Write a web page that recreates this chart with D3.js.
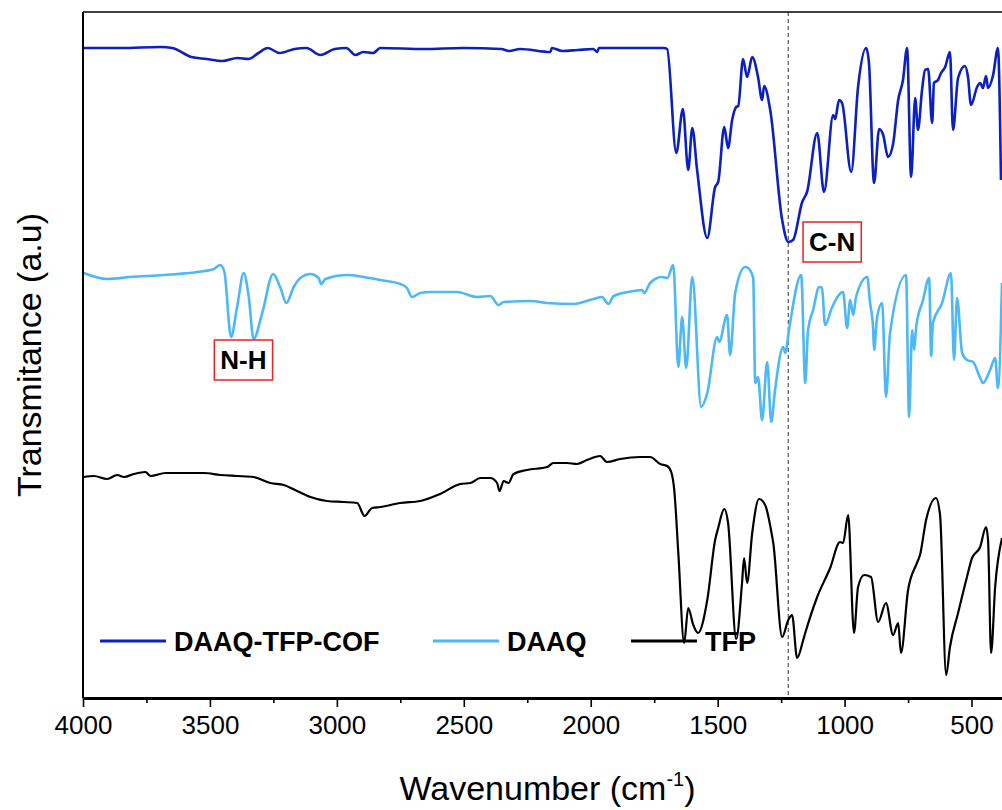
<!DOCTYPE html>
<html>
<head>
<meta charset="utf-8">
<script src="https://cdn.jsdelivr.net/npm/d3@7.9.0/dist/d3.min.js"></script>
<style>
  body { margin: 0; background: #fff; }
  svg { display: block; font-family: "Liberation Sans", Arial, sans-serif; }
</style>
</head>
<body>
<svg id="chart" width="1002" height="810"></svg>
<script>
// FTIR spectra: [wavenumber (cm-1), transmittance (a.u., stacked)]
const cofData = [
  [3997, 650], [3850, 650], [3695, 651], [3648, 650], [3573, 641], [3514, 639], [3451, 637],
  [3392, 640], [3348, 639], [3309, 645], [3272, 650], [3226, 645], [3167, 649], [3120, 650],
  [3065, 643], [3008, 649], [2963, 650], [2927, 643], [2896, 646], [2857, 645], [2829, 650],
  [2656, 649], [2502, 650], [2352, 649], [2322, 647], [2278, 649], [2159, 646], [2153, 650],
  [2112, 647], [2051, 648], [1990, 649], [1974, 646], [1968, 650], [1750, 650], [1712, 650],
  [1699, 649], [1663, 545], [1637, 589], [1616, 528], [1600, 570], [1581, 528], [1541, 460],
  [1510, 511], [1498, 516], [1474, 571], [1459, 550], [1443, 578], [1427, 591], [1419, 592],
  [1400, 639], [1384, 621], [1364, 641], [1341, 621], [1325, 598], [1317, 612], [1293, 588],
  [1246, 478], [1222, 456], [1203, 458], [1167, 496], [1148, 506], [1108, 565], [1081, 506],
  [1045, 583], [1037, 579], [1022, 598], [1010, 595], [974, 526], [947, 611], [915, 650],
  [904, 635], [884, 515], [864, 569], [848, 563], [829, 541], [809, 554], [789, 598],
  [770, 618], [754, 650], [738, 521], [722, 600], [711, 568], [695, 608], [683, 628],
  [671, 629], [655, 575], [648, 615], [632, 618], [620, 625], [604, 631], [585, 646],
  [573, 568], [553, 620], [526, 632], [514, 621], [502, 593], [478, 611], [466, 615],
  [455, 610], [443, 622], [435, 610], [415, 623], [396, 650], [384, 518]
];

const daaqData = [
  [3997, 425], [3905, 419], [3813, 421], [3682, 423], [3550, 426], [3485, 429], [3459, 433],
  [3443, 426], [3417, 361], [3393, 391], [3367, 425], [3347, 401], [3328, 359], [3294, 385],
  [3251, 424], [3222, 410], [3199, 395], [3170, 411], [3144, 420], [3104, 424], [3072, 420],
  [3062, 414], [3045, 419], [2960, 423], [2894, 421], [2829, 418], [2750, 414], [2724, 410],
  [2704, 401], [2671, 405], [2632, 406], [2527, 406], [2448, 401], [2396, 402], [2363, 393],
  [2343, 396], [2238, 397], [2172, 395], [2068, 394], [1989, 399], [1956, 401], [1930, 394],
  [1910, 402], [1831, 407], [1798, 408], [1789, 405], [1766, 415], [1720, 421], [1698, 420],
  [1675, 433], [1655, 331], [1640, 381], [1624, 330], [1600, 421], [1565, 291], [1541, 305],
  [1502, 361], [1494, 356], [1463, 383], [1451, 343], [1431, 405], [1392, 431], [1380, 430],
  [1360, 420], [1352, 315], [1341, 321], [1325, 278], [1305, 336], [1289, 276], [1274, 308],
  [1242, 351], [1234, 345], [1218, 370], [1171, 423], [1155, 315], [1144, 368], [1124, 388],
  [1100, 411], [1089, 410], [1077, 373], [1049, 391], [1006, 406], [990, 370], [978, 398],
  [966, 383], [955, 401], [911, 421], [900, 396], [888, 371], [884, 348], [872, 381],
  [852, 395], [837, 301], [821, 365], [758, 423], [746, 281], [734, 368], [726, 348],
  [718, 371], [691, 398], [667, 420], [659, 342], [652, 375], [616, 395], [581, 425],
  [569, 338], [557, 400], [537, 345], [518, 338], [494, 336], [466, 320], [455, 315],
  [427, 328], [407, 340], [396, 310], [380, 415]
];

const tfpData = [
  [3997, 221], [3957, 222], [3905, 219], [3865, 223], [3839, 221], [3800, 224], [3754, 226],
  [3734, 222], [3675, 225], [3616, 225], [3524, 225], [3459, 223], [3393, 222], [3328, 221],
  [3262, 215], [3209, 213], [3157, 207], [3104, 201], [3039, 197], [2973, 196], [2920, 195],
  [2891, 182], [2861, 190], [2829, 191], [2750, 195], [2671, 197], [2593, 204], [2514, 214],
  [2474, 215], [2435, 220], [2396, 220], [2369, 215], [2359, 207], [2343, 217], [2324, 215],
  [2304, 224], [2251, 228], [2172, 231], [2147, 235], [2094, 235], [2054, 234], [2015, 238],
  [1963, 242], [1936, 236], [1884, 239], [1805, 241], [1766, 241], [1726, 234], [1699, 232],
  [1683, 226], [1671, 208], [1655, 145], [1632, 55], [1616, 90], [1596, 73], [1577, 65],
  [1541, 98], [1510, 158], [1498, 170], [1474, 189], [1459, 175], [1427, 59], [1404, 115],
  [1396, 140], [1384, 115], [1364, 165], [1337, 199], [1313, 193], [1285, 161], [1281, 155],
  [1246, 61], [1222, 78], [1207, 83], [1187, 40], [1163, 58], [1155, 65], [1108, 101],
  [1057, 130], [1018, 156], [1006, 155], [986, 183], [963, 65], [947, 111], [923, 123],
  [896, 121], [868, 76], [837, 95], [809, 63], [789, 75], [778, 45], [750, 108],
  [715, 135], [703, 143], [679, 178], [640, 200], [624, 183], [600, 23], [585, 51],
  [553, 85], [518, 121], [498, 140], [466, 151], [443, 171], [435, 158], [423, 45],
  [407, 111], [380, 160]
];

const seriesNames = ['DAAQ-TFP-COF', 'DAAQ', 'TFP'];
const seriesColors = ['#0c1fbf', '#4cb8f6', '#000000'];
const majorTicks = [4000, 3500, 3000, 2500, 2000, 1500, 1000, 500];
const minorTicks = [3750, 3250, 2750, 2250, 1750, 1250, 750];
const markerWn = 1222;
const peakLabels = [
  { text: 'C-N', wn: 1049, t: 456 },
  { text: 'N-H', wn: 3368, t: 338 }
];

const svg = d3.select('#chart');
const margin = { left: 83, top: 12, right: 0, bottom: 112 };
const width = 1002, height = 810;

const x = d3.scaleLinear().domain([4000, 380]).range([margin.left, width - margin.right]);
const y = d3.scaleLinear().domain([0, 686]).range([height - margin.bottom, margin.top]);

svg.append('clipPath').attr('id', 'clip')
  .append('rect')
  .attr('x', margin.left).attr('y', margin.top)
  .attr('width', width - margin.left).attr('height', height - margin.bottom - margin.top);

// dashed marker at C-N band
svg.append('line')
  .attr('x1', x(markerWn)).attr('x2', x(markerWn))
  .attr('y1', y(686)).attr('y2', y(0))
  .attr('stroke', '#333').attr('stroke-width', 1)
  .attr('stroke-dasharray', '4,3');

const line = d3.line()
  .x((d) => x(d[0]))
  .y((d) => y(d[1]))
  .curve(d3.curveMonotoneX);

[cofData, daaqData, tfpData].forEach((data, i) => {
  svg.append('path')
    .datum(data)
    .attr('clip-path', 'url(#clip)')
    .attr('fill', 'none')
    .attr('stroke', seriesColors[i])
    .attr('stroke-width', i === 2 ? 2.2 : 2.6)
    .attr('stroke-linejoin', 'round')
    .attr('d', line);
});

// frame
svg.append('line')
  .attr('x1', margin.left).attr('x2', width)
  .attr('y1', margin.top).attr('y2', margin.top)
  .attr('stroke', '#000').attr('stroke-width', 1.5);
svg.append('line')
  .attr('x1', margin.left).attr('x2', margin.left)
  .attr('y1', margin.top).attr('y2', height - margin.bottom)
  .attr('stroke', '#000').attr('stroke-width', 2);

// x axis
const axisY = height - margin.bottom;
const xAxis = svg.append('g')
  .attr('transform', `translate(0,${axisY})`)
  .call(d3.axisBottom(x).tickValues(majorTicks).tickSize(9).tickPadding(9)
    .tickSizeOuter(0).tickFormat(d3.format('d')));
xAxis.select('.domain').attr('stroke-width', 3);
xAxis.selectAll('.tick line').attr('stroke-width', 1.6);
xAxis.selectAll('.tick text')
  .attr('font-size', 26)
  .attr('font-family', '"Liberation Sans", Arial, sans-serif')
  .attr('fill', '#000');

svg.append('g')
  .attr('transform', `translate(0,${axisY})`)
  .call(d3.axisBottom(x).tickValues(minorTicks).tickSize(5).tickFormat(''))
  .call((g) => g.select('.domain').remove())
  .selectAll('.tick line').attr('stroke-width', 1.6);

// axis titles
const xTitle = svg.append('text')
  .attr('x', (margin.left + width) / 2 + 5)
  .attr('y', 800)
  .attr('text-anchor', 'middle')
  .attr('font-size', 34)
  .attr('fill', '#000');
xTitle.append('tspan').text('Wavenumber (cm');
xTitle.append('tspan').attr('font-size', 20).attr('dy', -14).text('-1');
xTitle.append('tspan').attr('dy', 14).text(')');

svg.append('text')
  .attr('transform', `translate(41,${(margin.top + axisY) / 2}) rotate(-90)`)
  .attr('text-anchor', 'middle')
  .attr('font-size', 34)
  .attr('fill', '#000')
  .text('Transmitance (a.u)');

// legend
const legendX = [100, 433, 631];
const legendY = 641;
seriesNames.forEach((name, i) => {
  svg.append('line')
    .attr('x1', legendX[i]).attr('x2', legendX[i] + 66)
    .attr('y1', legendY).attr('y2', legendY)
    .attr('stroke', seriesColors[i]).attr('stroke-width', 3);
  svg.append('text')
    .attr('x', legendX[i] + 74).attr('y', legendY + 10)
    .attr('font-size', 27).attr('font-weight', 'bold')
    .attr('fill', '#000')
    .text(name);
});

// peak labels
peakLabels.forEach((p) => {
  const g = svg.append('g');
  const t = g.append('text')
    .attr('x', x(p.wn)).attr('y', y(p.t) + 9)
    .attr('text-anchor', 'middle')
    .attr('font-size', 26).attr('font-weight', 'bold')
    .attr('fill', '#000')
    .text(p.text);
  const b = t.node().getBBox();
  g.insert('rect', 'text')
    .attr('x', b.x - 6).attr('y', y(p.t) - 20)
    .attr('width', b.width + 12).attr('height', 40)
    .attr('fill', '#fff')
    .attr('stroke', '#e8231f').attr('stroke-width', 1.5);
});
</script>
</body>
</html>
